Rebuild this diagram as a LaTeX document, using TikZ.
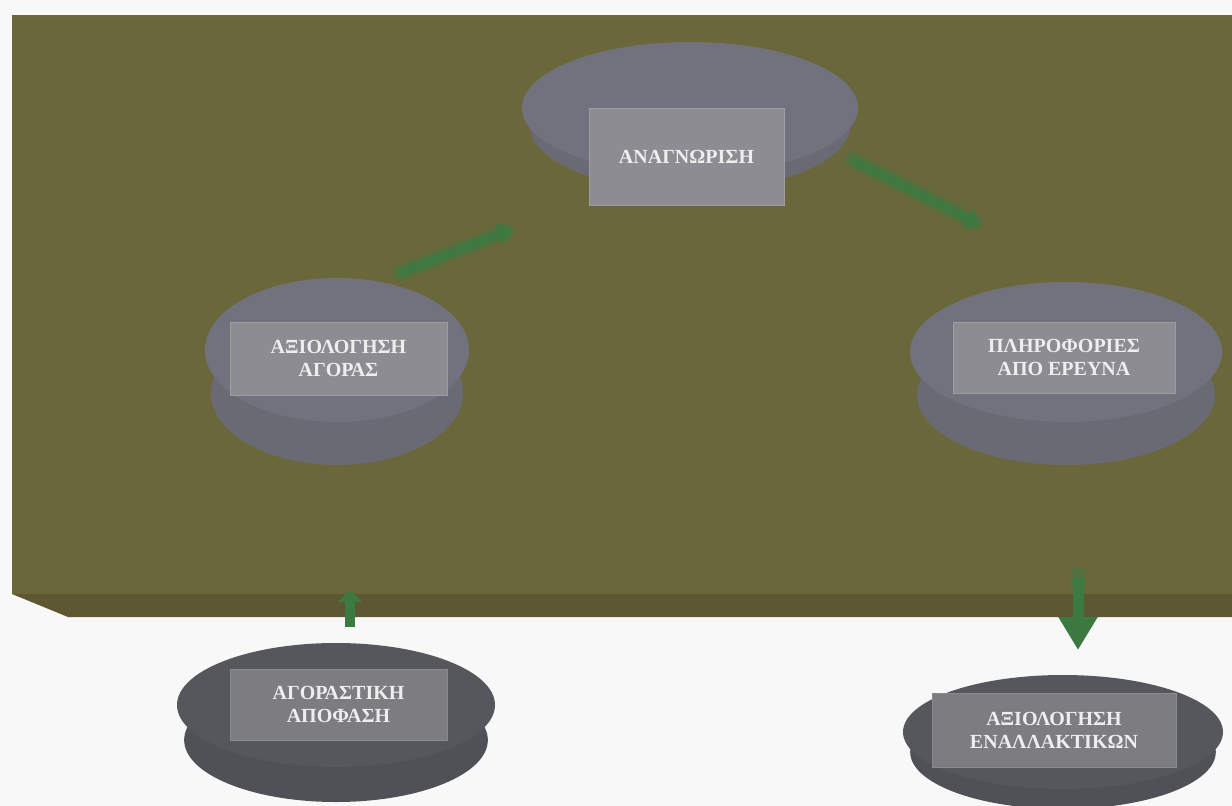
\documentclass[tikz,border=0pt]{standalone}
\usepackage{fontspec}
\setmainfont{Liberation Serif}
\usetikzlibrary{arrows.meta,shapes.geometric}

\definecolor{pagebg}{RGB}{248,248,248}
\definecolor{slabtop}{RGB}{106,104,59}
\definecolor{slabfront}{RGB}{93,88,49}
\definecolor{puckup}{RGB}{114,114,126}
\definecolor{puckside}{RGB}{106,106,117}
\definecolor{labelup}{RGB}{140,140,146}
\definecolor{puckdn}{RGB}{86,86,93}
\definecolor{pucksidedn}{RGB}{80,80,87}
\definecolor{labeldn}{RGB}{124,124,129}
\definecolor{flow}{RGB}{60,122,66}
\definecolor{caption}{RGB}{238,238,238}

% a puck: side body (lower ellipse) under a top ellipse
% #1 name, #2 cx, #3 cy, #4 rx, #5 ry, #6 drop, #7 top colour, #8 side colour
\newcommand\drawpuck[8]{%
  \fill[#8] (#2,#3+#6) ellipse [x radius=#4*0.955, y radius=#5];
  \node[ellipse, fill=#7, minimum width=2*#4 pt, minimum height=2*#5 pt,
        inner sep=0pt] (#1) at (#2,#3) {};
}

\tikzset{
  labelbox/.style={rectangle, inner sep=0pt, line width=1pt,
    text=caption, align=center,
    font=\bfseries\fontsize{20}{23}\selectfont},
  onslab/.style={labelbox, fill=labelup, draw=labelup!85!white},
  offslab/.style={labelbox, fill=labeldn, draw=labeldn!90!white},
  softflow/.style={flow, line cap=round},
}

\begin{document}
\begin{tikzpicture}[x=1pt,y=-1pt]
  \useasboundingbox (0,0) rectangle (1232,806);
  \fill[pagebg] (0,0) rectangle (1232,806);

  % the slab: top face and front edge
  \fill[slabtop] (12,15) rectangle (1232,594);
  \fill[slabfront] (12,594) -- (1232,594) -- (1232,617) -- (68,617) -- cycle;

  % pucks
  \drawpuck{d1}{690}{108}{168}{66}{17}{puckup}{puckside}
  \drawpuck{d2}{337}{350}{132}{72}{43}{puckup}{puckside}
  \drawpuck{d3}{1066}{352}{156}{70}{43}{puckup}{puckside}
  \drawpuck{d4}{336}{705}{159}{62}{35}{puckdn}{pucksidedn}
  \drawpuck{d5}{1063}{732}{160}{57}{20}{puckdn}{pucksidedn}

  % labels
  \node[onslab, minimum width=195pt, minimum height=97pt] (r1) at (686.5,156.5)
    {ΑΝΑΓΝΩΡΙΣΗ};
  \node[onslab, minimum width=217pt, minimum height=73pt] (r2) at (338.5,358.5)
    {ΑΞΙΟΛΟΓΗΣΗ\\ΑΓΟΡΑΣ};
  \node[onslab, minimum width=222pt, minimum height=71pt] (r3) at (1064,357.5)
    {ΠΛΗΡΟΦΟΡΙΕΣ\\ΑΠΟ ΕΡΕΥΝΑ};
  \node[offslab, minimum width=217pt, minimum height=71pt] (r4) at (338.5,704.5)
    {ΑΓΟΡΑΣΤΙΚΗ\\ΑΠΟΦΑΣΗ};
  \node[offslab, minimum width=244pt, minimum height=74pt] (r5) at (1054,730)
    {ΑΞΙΟΛΟΓΗΣΗ\\ΕΝΑΛΛΑΚΤΙΚΩΝ};

  % arrow ends
  \coordinate (a1s) at (400,273);
  \coordinate (a1e) at (512,229);
  \coordinate (a2s) at (853,160);
  \coordinate (a2e) at (980,225);
  \coordinate (a3s) at (350,627);
  \coordinate (a3e) at (350,590);
  \coordinate (a4s) at (1078,568);
  \coordinate (a4e) at (1078,650);

  % soft arrows across the slab
  \foreach \s/\e in {a1s/a1e, a2s/a2e}{
    \draw[softflow, opacity=0.22, line width=18pt, shorten >=6pt] (\s) -- (\e);
    \draw[softflow, opacity=0.4, line width=13pt, shorten >=6pt] (\s) -- (\e);
    \draw[flow, opacity=0.8, line width=8pt,
          -{Triangle[length=14pt,width=24pt]}] (\s) -- (\e);
  }

  % arrows crossing the front edge
  \draw[flow, line width=10pt, -{Triangle[length=12pt,width=24pt]}] (a3s) -- (a3e);
  \draw[flow, opacity=0.5, line width=14pt] (a4s) -- ([yshift=-20pt]a4s);
  \draw[flow, line width=11pt, -{Triangle[length=33pt,width=37pt]}] ([yshift=-10pt]a4s) -- (a4e);
\end{tikzpicture}
\end{document}
